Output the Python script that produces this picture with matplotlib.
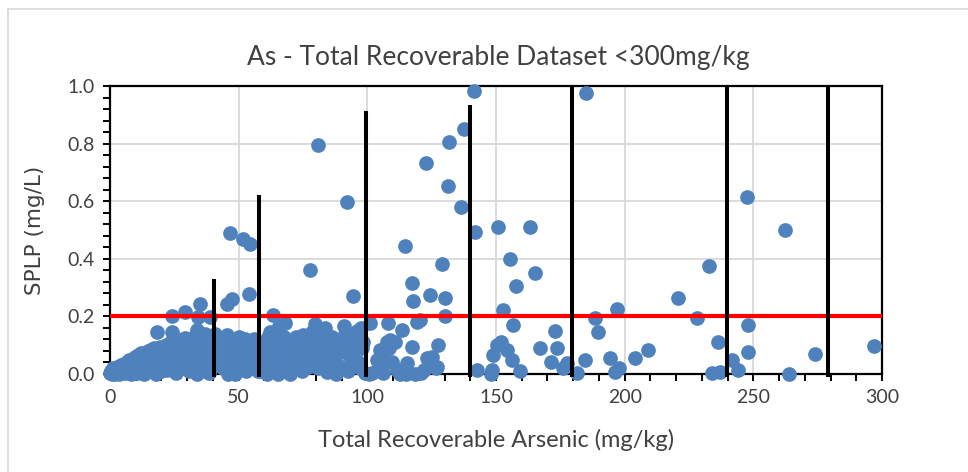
import matplotlib.pyplot as plt
from matplotlib.lines import Line2D
from matplotlib.ticker import MultipleLocator

# dense low-range samples (x < 100)
cluster_x = [0.2, 0.5, 0.8, 1.0, 1.3, 1.6, 2.0, 2.4, 2.8, 3.1, 3.5, 3.9, 4.3, 4.6, 5.0,
             5.4, 5.8, 6.2, 6.7, 7.1, 7.5, 7.9, 8.3, 8.8, 9.2, 9.6, 10.0,
             10.4, 10.9, 11.3, 11.8, 12.2, 12.7, 13.1, 13.6, 14.0, 14.5, 14.9,
             15.4, 15.9, 16.3, 16.8, 17.2, 17.7, 18.1, 18.2, 18.6, 19.1, 19.5, 20.0,
             20.4, 20.9, 21.3, 21.8, 22.2, 22.7, 23.1, 23.6, 24.0, 24.0, 24.4, 24.9,
             25.3, 25.8, 26.2, 26.7, 27.1, 27.6, 28.0, 28.5, 29.1, 29.3, 29.8,
             30.2, 30.7, 31.1, 31.6, 32.0, 32.5, 32.9, 33.7, 33.4, 33.8, 34.3, 34.3, 35.0, 34.8,
             35.3, 35.7, 36.2, 36.6, 37.1, 37.5, 38.0, 38.4, 38.9, 38.9, 39.3, 39.8,
             41.0, 42.0, 43.0, 44.0, 45.0, 46.0, 47.0, 48.0, 48.5, 49.0, 50.0, 50.5, 51.0,
             52.0, 52.5, 53.0, 54.0, 55.0, 55.5, 56.0, 57.0, 57.5, 42.5, 46.0, 53.5,
             45.3, 47.6, 53.9, 46.7, 51.5, 54.6, 45.3, 54.4,
             58.5, 59.0, 59.5, 60.0, 60.5, 61.0, 61.5, 62.2, 62.0, 62.5, 63.0, 63.5, 63.8,
             64.3, 64.8, 65.3, 65.5, 66.0, 66.5, 67.0, 67.5, 68.0, 68.5, 69.0, 69.5, 70.0,
             70.5, 71.0, 71.5, 72.3, 72.5, 73.0, 73.8, 74.0, 74.5, 75.1, 75.5, 76.0, 76.5,
             77.0, 77.7, 78.0, 78.5, 79.0, 79.6, 80.0, 80.3, 80.8, 81.0, 81.5, 82.0, 82.5,
             82.9, 83.7, 84.2, 84.2, 85.0, 85.5, 86.3, 86.8, 87.5, 88.0, 88.7, 89.4, 90.0,
             90.6, 91.0, 91.3, 92.0, 92.0, 92.5, 93.3, 94.0, 94.6, 94.6, 95.9, 96.0, 96.5,
             97.2, 97.6, 98.0, 98.5, 99.0]
cluster_y = [0.002, 0.01, 0.0, 0.005, 0.02, 0.0, 0.012, 0.003, 0.025, 0.008, 0.0, 0.018, 0.03, 0.006, 0.015,
             0.035, 0.002, 0.022, 0.04, 0.01, 0.05, 0.028, 0.0, 0.045, 0.017, 0.058, 0.032,
             0.005, 0.065, 0.04, 0.02, 0.072, 0.05, 0.0, 0.03, 0.078, 0.06, 0.012,
             0.085, 0.04, 0.065, 0.02, 0.09, 0.0, 0.145, 0.05, 0.075, 0.03, 0.095, 0.01,
             0.06, 0.085, 0.04, 0.1, 0.015, 0.07, 0.05, 0.11, 0.2, 0.147, 0.03, 0.09,
             0.06, 0.005, 0.12, 0.08, 0.04, 0.1, 0.02, 0.065, 0.214, 0.125, 0.045,
             0.09, 0.01, 0.11, 0.07, 0.03, 0.13, 0.055, 0.153, 0.1, 0.0, 0.199, 0.08, 0.243, 0.035,
             0.12, 0.06, 0.015, 0.1, 0.14, 0.045, 0.08, 0.005, 0.198, 0.115, 0.06, 0.025,
             0.14, 0.1, 0.06, 0.02, 0.13, 0.08, 0.04, 0.11, 0.0, 0.07, 0.13, 0.03, 0.09,
             0.05, 0.12, 0.01, 0.08, 0.1, 0.04, 0.12, 0.07, 0.01, 0.03, 0.0, 0.035,
             0.243, 0.26, 0.278, 0.49, 0.468, 0.45, 0.135, 0.116,
             0.01, 0.06, 0.11, 0.03, 0.085, 0.0, 0.13, 0.147, 0.05, 0.1, 0.02, 0.205, 0.075,
             0.12, 0.04, 0.0, 0.165, 0.09, 0.055, 0.015, 0.13, 0.178, 0.07, 0.03, 0.105, 0.0,
             0.05, 0.118, 0.085, 0.13, 0.02, 0.06, 0.077, 0.1, 0.01, 0.135, 0.04, 0.09, 0.115,
             0.025, 0.36, 0.065, 0.145, 0.06, 0.173, 0.1, 0.124, 0.795, 0.02, 0.045, 0.142, 0.08,
             0.112, 0.16, 0.066, 0.008, 0.1, 0.035, 0.13, 0.107, 0.05, 0.0, 0.02, 0.083, 0.12,
             0.025, 0.165, 0.14, 0.597, 0.073, 0.01, 0.031, 0.1, 0.271, 0.06, 0.124, 0.15, 0.04,
             0.02, 0.16, 0.09, 0.11, 0.005]

# sparser samples (x >= 100)
spread_x = [101.0, 100.5, 102.0, 103.6, 104.5, 104.8, 105.0, 106.0, 106.0, 107.5, 108.2, 108.4,
            108.8, 109.5, 110.8, 111.4, 112.7, 113.4, 114.6, 114.9, 115.3, 117.4, 117.4, 117.8,
            118.5, 119.2, 120.4, 120.9, 122.0, 122.8, 123.0, 124.4, 125.0, 126.7, 127.0, 127.5,
            129.0, 130.2, 130.2, 131.4, 131.8, 136.4, 137.6, 141.5, 142.0, 142.5,
            148.0, 148.3, 148.7, 150.4, 150.8, 152.0, 152.9, 154.4, 155.5, 156.3, 156.7, 157.8,
            159.4, 163.2, 165.0, 167.0, 171.4, 173.0, 173.6, 176.0, 177.5, 181.5, 184.5, 185.0,
            188.5, 189.8, 194.3, 196.3, 196.9, 197.6, 204.0, 209.2, 220.9, 228.0, 232.8, 233.8,
            236.4, 237.1, 241.6, 244.2, 247.6, 248.1, 248.1, 262.3, 264.0, 274.0, 296.7]
spread_y = [0.176, 0.0, 0.004, 0.049, 0.025, 0.014, 0.083, 0.005, 0.055, 0.112, 0.176, 0.09,
            0.118, 0.04, 0.11, 0.014, 0.0, 0.153, 0.444, 0.0, 0.037, 0.316, 0.095, 0.253,
            0.0, 0.182, 0.186, 0.002, 0.014, 0.733, 0.054, 0.274, 0.06, 0.02, 0.025, 0.1,
            0.382, 0.263, 0.2, 0.653, 0.806, 0.58, 0.85, 0.983, 0.493, 0.014,
            0.0, 0.014, 0.066, 0.1, 0.51, 0.11, 0.222, 0.085, 0.40, 0.05, 0.17, 0.305,
            0.01, 0.51, 0.35, 0.09, 0.04, 0.148, 0.09, 0.02, 0.037, 0.005, 0.05, 0.976,
            0.193, 0.147, 0.054, 0.008, 0.225, 0.02, 0.054, 0.083, 0.263, 0.193, 0.375, 0.005,
            0.112, 0.008, 0.049, 0.014, 0.615, 0.17, 0.077, 0.5, 0.0, 0.069, 0.098]

# vertical divider lines and limit line
divider_x = [40.5, 58.0, 99.5, 140.0, 179.6, 239.8, 279.0]
divider_top = [0.33, 0.62, 0.913, 0.935, 1.005, 1.005, 1.0]
limit_y = 0.2

blue = '#4F81BD'
font = 'Lato'

fig = plt.figure(figsize=(9.68, 4.72), dpi=100)
ax = fig.add_axes([0.1136, 0.2076, 0.7976, 0.6102])

ax.scatter(cluster_x + spread_x, cluster_y + spread_y, s=112, color=blue,
           linewidths=0, zorder=3, clip_on=False)
ax.hlines(limit_y, 0, 300, color='#FF0000', lw=3, zorder=4)
ax.vlines(divider_x, -0.012, divider_top, color='black', lw=2.9, zorder=5, clip_on=False)

ax.set_xlim(0, 300)
ax.set_ylim(0, 1.0)
ax.xaxis.set_major_locator(MultipleLocator(50))
ax.xaxis.set_minor_locator(MultipleLocator(10))
ax.yaxis.set_major_locator(MultipleLocator(0.2))
ax.yaxis.set_minor_locator(MultipleLocator(0.04))
ax.yaxis.set_major_formatter(lambda v, p: f'{v:.1f}')

ax.grid(True, which='major', color='#D9D9D9', lw=1.3, zorder=0)
ax.set_axisbelow(True)
for sp in ax.spines.values():
    sp.set_color('black')
    sp.set_linewidth(1.6)
ax.tick_params(which='both', direction='out', length=5, width=1.4, color='black')
ax.tick_params(which='major', labelsize=14, labelcolor='#404040', pad=6)
for lab in ax.get_xticklabels() + ax.get_yticklabels():
    lab.set_family(font)

ax.set_xlabel('Total Recoverable Arsenic (mg/kg)', fontsize=17, color='#404040',
              family=font, labelpad=16)
ax.set_ylabel('SPLP (mg/L)', fontsize=15.5, color='#404040', family='DejaVu Sans',
              labelpad=16)
fig.text(0.515, 0.879, 'As - Total Recoverable Dataset <300mg/kg', ha='center', va='center',
         fontsize=19, color='#404040', family=font)

# chart area border
fig.add_artist(Line2D([8 / 968, 8 / 968], [0, 1 - 9 / 472], color='#D9D9D9', lw=1.2))
fig.add_artist(Line2D([8 / 968, 1], [1 - 9 / 472, 1 - 9 / 472], color='#D9D9D9', lw=1.2))

plt.savefig('out.png', dpi=100)
plt.close()
